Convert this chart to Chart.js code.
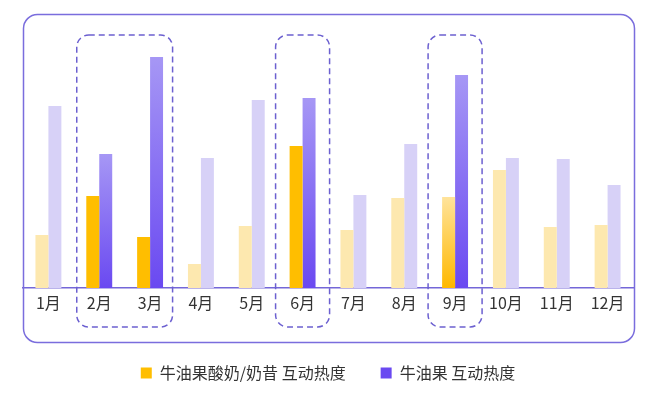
<!DOCTYPE html>
<html>
<head>
<meta charset="utf-8">
<script src="https://cdn.jsdelivr.net/npm/chart.js@4.4.1/dist/chart.umd.min.js"></script>
<style>
html, body { margin: 0; padding: 0; background: #fff; }
#wrap { width: 649px; height: 400px; }
</style>
</head>
<body>
<div id="wrap"><canvas id="myChart"></canvas></div>
<script>
var months = ['1月', '2月', '3月', '4月', '5月', '6月', '7月', '8月', '9月', '10月', '11月', '12月'];
var yogurtHeat = [53, 92, 51, 24, 62, 142, 58, 90, 91, 118, 61, 63];
var avocadoHeat = [182, 134, 231, 130, 188, 190, 93, 144, 213, 130, 129, 103];
var seriesNames = ['牛油果酸奶/奶昔 互动热度', '牛油果 互动热度'];
var highlightIdx = [1, 2, 5, 8];

var FONT = "'Noto Sans CJK SC', 'Noto Sans', sans-serif";

function barGradient(ctx, top, bottom) {
    var chart = ctx.chart;
    if (!chart.chartArea) return bottom;
    var y = chart.scales.y;
    var g = chart.ctx.createLinearGradient(0, y.getPixelForValue(ctx.raw), 0, y.getPixelForValue(0));
    g.addColorStop(0, top);
    g.addColorStop(1, bottom);
    return g;
}

function yellowColor(ctx) {
    var i = ctx.dataIndex;
    if (highlightIdx.indexOf(i) < 0) return '#FDE8AF';
    if (i === 8) return barGradient(ctx, '#FFE39B', '#FFB800');
    return '#FFBE00';
}

function purpleColor(ctx) {
    var i = ctx.dataIndex;
    if (highlightIdx.indexOf(i) < 0) return '#D7D1F7';
    return barGradient(ctx, '#A697F5', '#6A49F1');
}

function roundRect(c, x, y, w, h, r) {
    c.beginPath();
    c.moveTo(x + r, y);
    c.arcTo(x + w, y, x + w, y + h, r);
    c.arcTo(x + w, y + h, x, y + h, r);
    c.arcTo(x, y + h, x, y, r);
    c.arcTo(x, y, x + w, y, r);
    c.closePath();
}

// outer frame + dashed highlight boxes
var decor = {
    id: 'decor',
    afterDraw: function(chart) {
        var c = chart.ctx;
        var xs = chart.scales.x;
        c.save();
        c.strokeStyle = '#7A6DDD';
        c.lineWidth = 1.5;
        roundRect(c, 23.5, 14.5, 611, 328, 14);
        c.stroke();

        var boxes = [[1, 2, 22.5], [5, 5, 27], [8, 8, 27]];
        c.setLineDash([6, 4]);
        c.strokeStyle = '#6C60D0';
        boxes.forEach(function(b) {
            var l = xs.getPixelForValue(b[0]) - b[2];
            var r = xs.getPixelForValue(b[1]) + b[2];
            roundRect(c, l, 35, r - l, 292, 12);
            c.stroke();
        });
        c.restore();
    }
};

var ctx = document.getElementById('myChart').getContext('2d');
var myChart = new Chart(ctx, {
    type: 'bar',
    data: {
        labels: months,
        datasets: [{
            label: seriesNames[0],
            data: yogurtHeat,
            backgroundColor: yellowColor
        }, {
            label: seriesNames[1],
            data: avocadoHeat,
            backgroundColor: purpleColor
        }]
    },
    options: {
        responsive: true,
        maintainAspectRatio: false,
        animation: false,
        layout: { padding: { top: 38, left: 23, right: 16, bottom: 9 } },
        datasets: { bar: { barPercentage: 1, categoryPercentage: 0.51 } },
        scales: {
            x: {
                grid: { display: false, drawTicks: false },
                border: { display: true, color: '#7467D8', width: 1.5 },
                ticks: { padding: 5, color: '#333', font: { family: FONT, size: 16 } },
                afterFit: function(scale) { scale.height = 42; }
            },
            y: {
                display: false,
                min: 0,
                max: 250
            }
        },
        plugins: {
            tooltip: { enabled: false },
            legend: {
                position: 'bottom',
                labels: {
                    padding: 35,
                    boxWidth: 11,
                    boxHeight: 11,
                    color: '#333',
                    font: { family: FONT, size: 16 },
                    generateLabels: function(chart) {
                        var cols = ['#FFBE00', '#6A49F1'];
                        return chart.data.datasets.map(function(ds, i) {
                            return { text: ds.label, fillStyle: cols[i], strokeStyle: cols[i], lineWidth: 0, datasetIndex: i, fontColor: '#333' };
                        });
                    }
                }
            }
        }
    },
    plugins: [decor]
});
</script>
</body>
</html>
